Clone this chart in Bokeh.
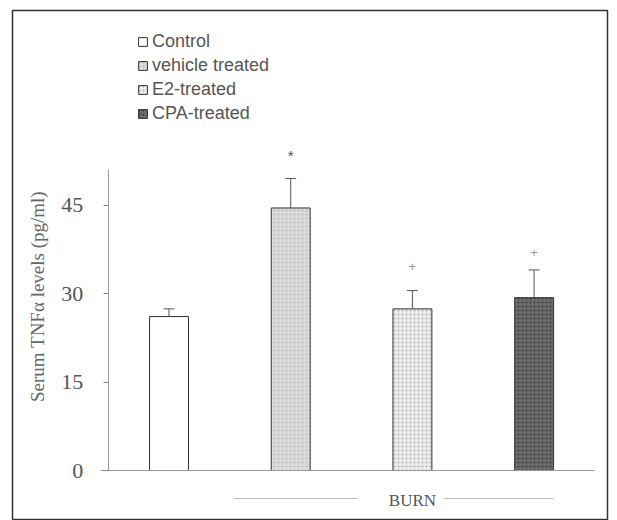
import math
from bokeh.plotting import figure
from bokeh.models import (Range1d, FixedTicker, LinearAxis, Whisker, TeeHead,
                          ColumnDataSource, Legend, LegendItem, Label)
from bokeh.embed import file_html
from bokeh.resources import INLINE
from bokeh.core.properties import value

# ---- data ----
groups = ["Control", "vehicle treated", "E2-treated", "CPA-treated"]
positions = [1, 2, 3, 4]
means = [26.1, 44.5, 27.4, 29.3]
sem = [1.3, 5.0, 3.1, 4.7]
marks = ["", "*", "+", "+"]
mark_y = [0, 53.4, 34.6, 37.0]
y_ticks = [0, 15, 30, 45]

fills = ["#ffffff", "#dcdcdc", "#ececec", "#6c6c6c"]
hatches = [" ", "dot", "dot", "dot"]
hatch_cols = ["#ffffff", "#b8b8b8", "#b0b0b0", "#3a3a3a"]

p = figure(width=609, height=520, output_backend="svg", toolbar_location=None,
           x_range=Range1d(-0.286, 4.603), y_range=Range1d(-8.3, 77.97),
           min_border_left=12, min_border_right=2, min_border_top=10, min_border_bottom=1,
           x_axis_type=None, y_axis_type=None)
p.grid.visible = False
p.outline_line_color = "#333333"
p.outline_line_width = 1.5
p.background_fill_color = "white"

# y axis inside the frame
yax = LinearAxis(fixed_location=0.5, bounds=(0, 51), ticker=FixedTicker(ticks=y_ticks))
yax.axis_line_color = "#999999"
yax.major_tick_line_color = "#888888"
yax.major_tick_out = 5
yax.major_tick_in = 0
yax.minor_tick_line_color = None
yax.major_label_text_font = "Liberation Serif"
yax.major_label_text_font_size = "22px"
yax.major_label_text_color = "#555555"
yax.major_label_standoff = 20
p.add_layout(yax, "left")

# axis title placed as a label
ylab = Label(x=-0.08, y=29.5, text="Serum TNFα levels (pg/ml)", angle=math.pi / 2,
             text_align="center", text_baseline="middle",
             text_font="Liberation Serif", text_font_size="19px", text_color="#666666")
p.add_layout(ylab)

xax = LinearAxis(fixed_location=0, bounds=(0.44, 4.5), ticker=FixedTicker(ticks=[]))
xax.axis_line_color = "#999999"
xax.major_tick_line_color = None
xax.minor_tick_line_color = None
xax.major_label_text_font_size = "0px"
p.add_layout(xax, "below")

src = ColumnDataSource(dict(x=positions, top=means,
                            upper=[m + s for m, s in zip(means, sem)]))

items = []
for i in range(4):
    r = p.vbar(x=positions[i], top=means[i], width=0.32, bottom=0,
               fill_color=fills[i], line_color="#333333", line_width=1,
               hatch_pattern=hatches[i] if hatches[i] != " " else None,
               hatch_color=hatch_cols[i], hatch_scale=4, hatch_weight=1.2)
    items.append(LegendItem(label=groups[i], renderers=[r]))

wh = Whisker(base="x", lower="top", upper="upper", source=src,
             line_color="#555555", line_width=1,
             lower_head=None, upper_head=TeeHead(size=11, line_color="#555555"))
p.add_layout(wh)

# significance markers
sizes = ["", "15px", "13px", "13px"]
colors = ["", "#555555", "#999999", "#999999"]
for i in range(1, 4):
    p.text(x=[positions[i]], y=[mark_y[i]], text=[marks[i]], text_align="center",
           text_baseline="middle", text_font_size=sizes[i], text_color=colors[i],
           text_font=value("Liberation Sans"))

# BURN label with lines
p.segment(x0=[1.53, 3.255], y0=[-4.75, -4.75], x1=[2.549, 4.158], y1=[-4.75, -4.75],
          line_color="#bbbbbb", line_width=1)
p.text(x=[3.0], y=[-5.0], text=["BURN"], text_align="center", text_baseline="middle",
       text_font=value("Liberation Serif"), text_font_size="17px", text_color="#555555")

legend = Legend(items=items, location=(125, 395), glyph_width=11, glyph_height=11,
                label_height=17, spacing=3, padding=0, margin=0, label_standoff=4,
                border_line_color=None, background_fill_alpha=0,
                label_text_font="Liberation Sans", label_text_font_size="18px",
                label_text_color="#555555")
p.add_layout(legend, "center")

open("out.html", "w").write(file_html(p, INLINE))
